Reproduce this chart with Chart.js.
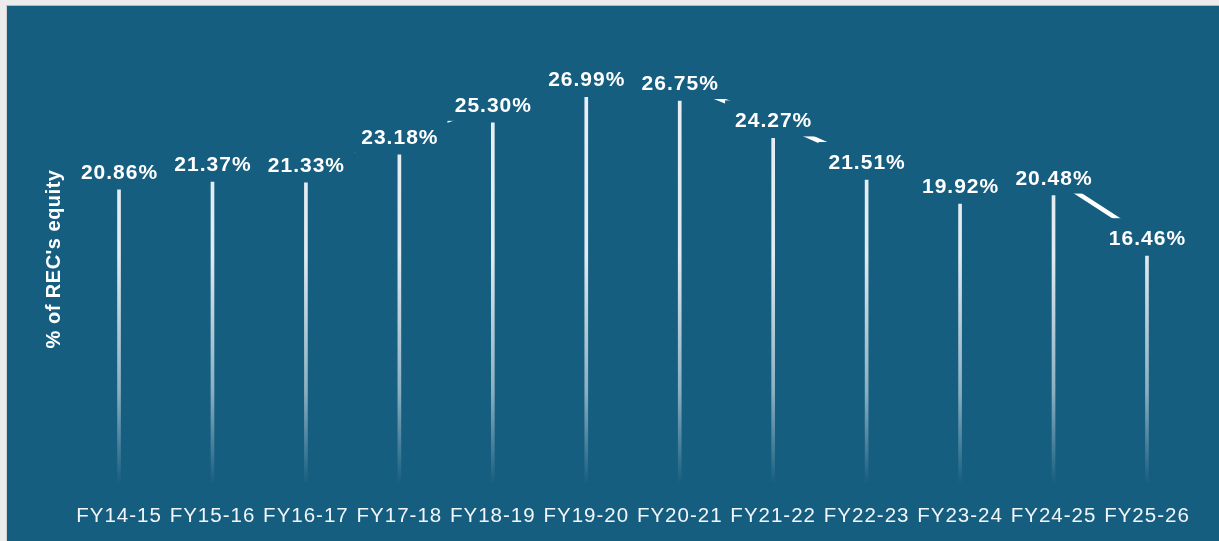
<!DOCTYPE html>
<html><head><meta charset="utf-8">
<script src="https://cdn.jsdelivr.net/npm/chart.js@4"></script>
<style>
html,body{margin:0;padding:0;background:#ececec;width:1219px;height:541px;overflow:hidden}
#wrap{position:absolute;left:6px;top:5px;width:1213px;height:536px;border-top:1px solid #b8b8b8;border-left:1px solid #d2d2d2;background:#165e80}
canvas{display:block}
</style></head>
<body><div id="wrap"><canvas id="c" width="1212" height="535"></canvas></div>
<script>
const categories = ['FY14-15','FY15-16','FY16-17','FY17-18','FY18-19','FY19-20','FY20-21','FY21-22','FY22-23','FY23-24','FY24-25','FY25-26'];
const equityShare = [20.86, 21.37, 21.33, 23.18, 25.30, 26.99, 26.75, 24.27, 21.51, 19.92, 20.48, 16.46];
const labelTexts = ['20.86%','21.37%','21.33%','23.18%','25.30%','26.99%','26.75%','24.27%','21.51%','19.92%','20.48%','16.46%'];
const yTitle = "% of REC's equity";

const BG = '#165e80';
const LABEL_RISE = 18;   // px from bar top to label centre
const BASE_OFF = 11;     // px from bar top to label baseline

const spacing = {
  id:'spacing',
  beforeDraw(chart){ chart.ctx.letterSpacing = '1px'; }
};
const shiftLine = {
  id:'shiftLine',
  beforeDatasetDraw(chart,args){ if(args.index===1){ chart.ctx.save(); chart.ctx.translate(0,-LABEL_RISE);} },
  afterDatasetDraw(chart,args){ if(args.index===1){ chart.ctx.restore(); } }
};
const labels = {
  id:'labels',
  afterDatasetsDraw(chart){
    const ctx = chart.ctx;
    const meta = chart.getDatasetMeta(0);
    ctx.save();
    ctx.letterSpacing = '1px';
    ctx.font = 'bold 21px "Liberation Sans", Arial, sans-serif';
    ctx.textAlign = 'center';
    ctx.textBaseline = 'alphabetic';
    meta.data.forEach((el,i)=>{
      const t = labelTexts[i];
      const base = el.y - BASE_OFF;
      const w = ctx.measureText(t).width;
      ctx.fillStyle = BG;
      ctx.fillRect(el.x - w/2 - 9.5, base - 27, w + 19, 36);
      ctx.fillStyle = '#ffffff';
      ctx.fillText(t, el.x + 0.5, base);
    });
    ctx.restore();
    // y title
    ctx.save();
    ctx.translate(47, 253);
    ctx.rotate(-Math.PI/2);
    ctx.font = 'bold 20px "Liberation Sans", Arial, sans-serif';
    ctx.letterSpacing = '0.5px';
    ctx.fillStyle = '#ffffff';
    ctx.textAlign = 'center';
    ctx.textBaseline = 'middle';
    ctx.fillText(yTitle, 0, 0);
    ctx.restore();
  }
};

function barGrad(context){
  const chart = context.chart;
  const a = chart.chartArea;
  if(!a) return 'rgba(235,242,246,0.9)';
  const g = chart.ctx.createLinearGradient(0, a.top, 0, a.bottom);
  g.addColorStop(0, 'rgba(236,242,246,1)');
  g.addColorStop(0.45, 'rgba(236,242,246,0.95)');
  g.addColorStop(0.75, 'rgba(236,242,246,0.55)');
  g.addColorStop(0.955, 'rgba(236,242,246,0)');
  g.addColorStop(1, 'rgba(236,242,246,0)');
  return g;
}

new Chart(document.getElementById('c'), {
  data:{
    labels: categories,
    datasets:[
      { type:'bar', data: equityShare, backgroundColor: barGrad, barThickness:3, borderWidth:0, order:2 },
      { type:'line', data: equityShare, borderColor:'#ffffff', borderWidth:4.5, pointRadius:0, fill:false, tension:0, clip:false, order:1 }
    ]
  },
  options:{
    responsive:false,
    animation:false,
    devicePixelRatio:1,
    layout:{ padding:{ left:65.3, right:25.3, top:46, bottom:12 } },
    plugins:{ legend:{display:false}, tooltip:{enabled:false} },
    scales:{
      x:{
        grid:{display:false, drawTicks:false},
        border:{display:false},
        ticks:{ color:'#f2f6f8', font:{family:'"Liberation Sans", Arial, sans-serif', size:20.5}, padding:0, maxRotation:0, autoSkip:false }
      },
      y:{ display:false, min:0, max:30 }
    }
  },
  plugins:[spacing, shiftLine, labels]
});
</script>
</body></html>
